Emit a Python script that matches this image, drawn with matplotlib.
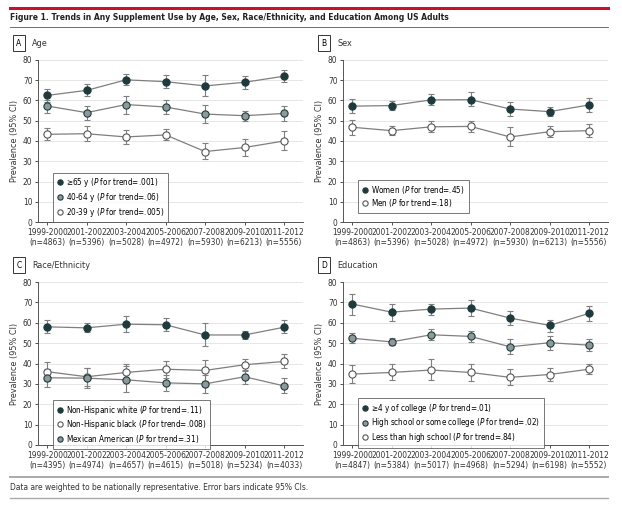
import numpy as np
import matplotlib
matplotlib.use('Agg')
import matplotlib.pyplot as plt
from matplotlib.lines import Line2D

plt.rcParams['font.family'] = ['DejaVu Sans']
plt.rcParams['font.sans-serif'] = ['DejaVu Sans']
plt.rcParams['font.stretch'] = 'condensed'
plt.rcParams['mathtext.fontset'] = 'custom'

# dados
periodos = ['1999-2000', '2001-2002', '2003-2004', '2005-2006', '2007-2008', '2009-2010', '2011-2012']

n_idade = [4863, 5396, 5028, 4972, 5930, 6213, 5556]
n_sexo = [4863, 5396, 5028, 4972, 5930, 6213, 5556]
n_raca = [4395, 4974, 4657, 4615, 5018, 5234, 4033]
n_educ = [4847, 5384, 5017, 4968, 5294, 6198, 5552]

idade_65 = [62.5, 65.0, 70.2, 69.3, 67.2, 69.0, 72.0]
idade_65_lo = [59.5, 62.0, 67.5, 66.0, 62.0, 65.5, 69.0]
idade_65_hi = [65.5, 68.0, 73.0, 72.8, 72.5, 72.2, 75.0]
idade_40 = [57.3, 54.0, 58.0, 56.8, 53.3, 52.5, 53.6]
idade_40_lo = [54.0, 50.5, 53.5, 53.5, 48.8, 50.0, 50.0]
idade_40_hi = [60.0, 57.5, 62.3, 60.0, 58.0, 55.0, 57.5]
idade_20 = [43.3, 43.6, 42.0, 43.0, 34.8, 36.8, 40.0]
idade_20_lo = [40.3, 40.2, 38.3, 40.3, 31.0, 32.8, 35.5]
idade_20_hi = [46.5, 47.2, 45.5, 46.0, 38.8, 40.8, 44.7]

mulheres = [57.2, 57.5, 60.3, 60.4, 55.8, 54.5, 57.8]
mulheres_lo = [53.8, 55.2, 57.6, 57.1, 52.2, 52.2, 54.5]
mulheres_hi = [60.5, 59.6, 63.2, 64.0, 59.4, 57.0, 61.3]
homens = [46.8, 45.1, 47.0, 47.2, 42.0, 44.6, 45.1]
homens_lo = [43.2, 42.8, 44.3, 44.5, 37.5, 41.8, 42.0]
homens_hi = [50.4, 47.2, 49.7, 50.0, 46.8, 47.5, 48.3]

brancos = [58.0, 57.5, 59.3, 59.0, 54.0, 54.0, 57.8]
brancos_lo = [55.0, 55.5, 55.5, 56.0, 48.5, 51.8, 55.0]
brancos_hi = [61.3, 59.8, 63.5, 62.2, 60.0, 56.0, 61.3]
negros = [36.0, 33.5, 35.6, 37.2, 36.6, 39.4, 41.0]
negros_lo = [31.5, 28.8, 31.5, 33.0, 31.5, 36.5, 37.7]
negros_hi = [40.6, 38.0, 39.6, 41.2, 41.8, 42.3, 44.6]
mexicanos = [33.0, 32.8, 32.0, 30.5, 30.0, 33.5, 29.0]
mexicanos_lo = [28.5, 28.0, 26.0, 26.5, 25.4, 30.0, 25.5]
mexicanos_hi = [37.5, 37.8, 38.8, 34.6, 34.3, 37.0, 32.7]

faculdade = [69.2, 65.2, 66.7, 67.2, 62.3, 58.7, 64.6]
faculdade_lo = [63.7, 61.0, 64.0, 63.3, 59.0, 55.7, 60.8]
faculdade_hi = [74.3, 69.4, 69.4, 71.0, 66.0, 61.4, 68.2]
medio = [52.4, 50.6, 54.1, 53.3, 48.2, 50.2, 49.0]
medio_lo = [50.0, 49.0, 51.7, 50.7, 44.6, 46.8, 46.2]
medio_hi = [55.0, 52.4, 56.7, 55.8, 52.0, 53.5, 51.9]
fundamental = [34.8, 35.6, 36.8, 35.6, 33.2, 34.6, 37.2]
fundamental_lo = [30.5, 31.8, 32.0, 31.4, 29.5, 31.5, 34.8]
fundamental_hi = [39.2, 39.6, 42.2, 39.9, 37.3, 37.8, 39.8]

ESCURO = '#1e3a3d'
CINZA = '#8d9a99'
BRANCO = 'white'
LINHA = '#7f7f7f'

W, H = 622, 507
fig = plt.figure(figsize=(W / 100, H / 100), dpi=100)


def px_axes(x0, y0, x1, y1):
    # converte pixels (origem no topo) em fração da figura
    return fig.add_axes([x0 / W, (H - y1) / H, (x1 - x0) / W, (y1 - y0) / H])


def painel(ax, letra, titulo, ns, series, leg_top):
    x = np.arange(len(periodos))
    handles = []
    for vals, lo, hi, cor, rot in series:
        vals = np.array(vals)
        err = [vals - np.array(lo), np.array(hi) - vals]
        borda = ESCURO if cor != BRANCO else '#555555'
        ax.errorbar(x, vals, yerr=err, color=LINHA, lw=0.9, elinewidth=0.8,
                    capsize=2.5, capthick=0.8, marker='o', markersize=5.2,
                    markerfacecolor=cor, markeredgecolor=borda,
                    markeredgewidth=0.8, zorder=3)
        handles.append(Line2D([], [], ls='none', marker='o', markersize=3.8,
                              markerfacecolor=cor, markeredgecolor=borda,
                              markeredgewidth=0.8, label=rot))
    ax.set_xlim(-0.23, 6.48)
    ax.set_ylim(0, 80)
    ax.set_yticks(range(0, 81, 10))
    ax.set_xticks(x)
    ax.set_xticklabels([f'{p}\n(n={n})' for p, n in zip(periodos, ns)])
    ax.grid(axis='y', color='#e6e6e6', lw=0.7)
    ax.set_axisbelow(True)
    for s in ['top', 'right']:
        ax.spines[s].set_visible(False)
    for s in ['left', 'bottom']:
        ax.spines[s].set_color('#555555')
        ax.spines[s].set_linewidth(0.7)
    ax.tick_params(labelsize=6.0, colors='#333333', length=2.5, width=0.6, pad=1.5)
    ax.set_ylabel('Prevalence (95% CI)', fontsize=6.5, color='#333333', labelpad=3)
    leg = ax.legend(handles=handles, loc='upper left', bbox_to_anchor=(0.055, leg_top),
                    fontsize=5.9, frameon=True, fancybox=False, handletextpad=0.2,
                    handlelength=1.0, borderpad=0.45, labelspacing=0.2, borderaxespad=0)
    leg.get_frame().set_edgecolor('#555555')
    leg.get_frame().set_linewidth(0.7)
    # rótulo do painel
    bb = ax.get_position()
    fx = bb.x0 - 19 / W
    fy = bb.y1 + 17 / H
    fig.text(fx, fy, letra, fontsize=6.0, ha='center', va='center',
             bbox=dict(boxstyle='square,pad=0.4', fc='white', ec='#333333', lw=0.7))
    fig.text(fx + 13 / W, fy, titulo, fontsize=6.5, ha='left', va='center', color='#333333')


axA = px_axes(38, 60, 303, 222)
painel(axA, 'A', 'Age', n_idade, [
    (idade_65, idade_65_lo, idade_65_hi, ESCURO, r'≥65 y ($\it{P}$ for trend=.001)'),
    (idade_40, idade_40_lo, idade_40_hi, CINZA, r'40-64 y ($\it{P}$ for trend=.06)'),
    (idade_20, idade_20_lo, idade_20_hi, BRANCO, r'20-39 y ($\it{P}$ for trend=.005)'),
], 0.305)

axB = px_axes(343, 60, 608, 222)
painel(axB, 'B', 'Sex', n_sexo, [
    (mulheres, mulheres_lo, mulheres_hi, ESCURO, r'Women ($\it{P}$ for trend=.45)'),
    (homens, homens_lo, homens_hi, BRANCO, r'Men ($\it{P}$ for trend=.18)'),
], 0.26)

axC = px_axes(38, 282, 303, 445)
painel(axC, 'C', 'Race/Ethnicity', n_raca, [
    (brancos, brancos_lo, brancos_hi, ESCURO, r'Non-Hispanic white ($\it{P}$ for trend=.11)'),
    (negros, negros_lo, negros_hi, BRANCO, r'Non-Hispanic black ($\it{P}$ for trend=.008)'),
    (mexicanos, mexicanos_lo, mexicanos_hi, CINZA, r'Mexican American ($\it{P}$ for trend=.31)'),
], 0.276)

axD = px_axes(343, 282, 608, 445)
painel(axD, 'D', 'Education', n_educ, [
    (faculdade, faculdade_lo, faculdade_hi, ESCURO, r'≥4 y of college ($\it{P}$ for trend=.01)'),
    (medio, medio_lo, medio_hi, CINZA, r'High school or some college ($\it{P}$ for trend=.02)'),
    (fundamental, fundamental_lo, fundamental_hi, BRANCO, r'Less than high school ($\it{P}$ for trend=.84)'),
], 0.288)


# cabeçalho e rodapé
def linha_h(y, cor, lw):
    fig.add_artist(Line2D([10 / W, 608 / W], [(H - y) / H] * 2, color=cor, lw=lw))


linha_h(8, '#c8102e', 2.2)
fig.text(10 / W, (H - 17) / H,
         'Figure 1. Trends in Any Supplement Use by Age, Sex, Race/Ethnicity, and Education Among US Adults',
         fontsize=6.1, fontweight='bold', color='#222222', va='center', ha='left')
linha_h(27, '#555555', 0.6)
linha_h(477, '#aaaaaa', 1.4)
fig.text(10 / W, (H - 488) / H,
         'Data are weighted to be nationally representative. Error bars indicate 95% CIs.',
         fontsize=6.0, color='#333333', va='center', ha='left')
linha_h(498, '#aaaaaa', 1.0)

fig.savefig('out.png', dpi=100, facecolor='white')
